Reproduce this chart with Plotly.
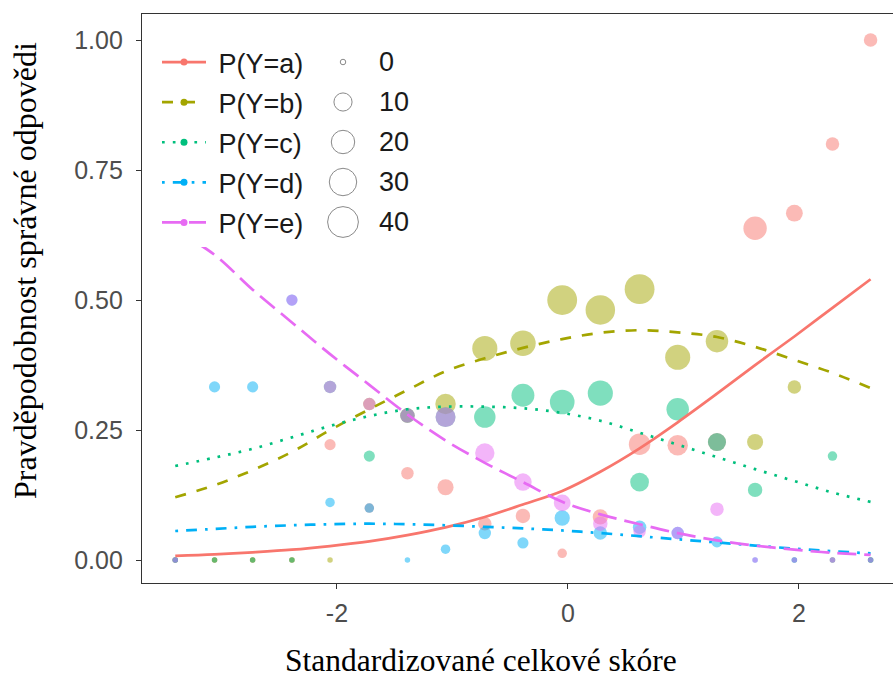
import math
import plotly.graph_objects as go

# Standardised total score of each score group
score = [-3.40, -3.06, -2.73, -2.39, -2.06, -1.72, -1.39, -1.06, -0.72, -0.39,
         -0.05, 0.28, 0.62, 0.95, 1.29, 1.62, 1.96, 2.29, 2.62]

# Fitted probabilities of choosing each option (multinomial model)
fit_a = [0.008, 0.011, 0.015, 0.020, 0.027, 0.036, 0.048, 0.063, 0.083, 0.107,
         0.133, 0.170, 0.215, 0.265, 0.320, 0.375, 0.430, 0.485, 0.540]
fit_b = [0.121, 0.144, 0.173, 0.208, 0.250, 0.290, 0.327, 0.363, 0.388, 0.408,
         0.425, 0.437, 0.442, 0.438, 0.429, 0.410, 0.385, 0.360, 0.331]
fit_c = [0.181, 0.197, 0.214, 0.236, 0.258, 0.277, 0.290, 0.295, 0.295, 0.292,
         0.283, 0.268, 0.245, 0.222, 0.198, 0.175, 0.152, 0.130, 0.112]
fit_d = [0.056, 0.060, 0.064, 0.067, 0.069, 0.070, 0.069, 0.067, 0.064, 0.061,
         0.057, 0.052, 0.046, 0.040, 0.034, 0.028, 0.022, 0.017, 0.013]
fit_e = [0.635, 0.587, 0.520, 0.457, 0.396, 0.337, 0.280, 0.230, 0.187, 0.150,
         0.112, 0.088, 0.069, 0.052, 0.038, 0.028, 0.020, 0.014, 0.010]

# Observed proportions of each option per score group
obs_a = [0, 0, 0, 0, 0.222, 0.100, 0.167, 0.140, 0.070, 0.085,
         0.013, 0.083, 0.223, 0.221, 0.227, 0.638, 0.667, 0.800, 1.000]
obs_b = [0, 0, 0, 0, 0, 0.300, 0.278, 0.300, 0.407, 0.417,
         0.500, 0.481, 0.521, 0.390, 0.421, 0.227, 0.333, 0, 0]
obs_c = [0, 0, 0, 0, 0.333, 0.200, 0.278, 0.275, 0.275, 0.317,
         0.304, 0.321, 0.150, 0.290, 0.227, 0.135, 0, 0.200, 0]
obs_d = [0, 0.333, 0.333, 0.500, 0.111, 0.100, 0, 0.021, 0.052, 0.033,
         0.081, 0.052, 0.063, 0.052, 0.035, 0, 0, 0, 0]
obs_e = [0, None, None, 0.500, 0.333, 0.300, 0.278, 0.275, 0.206, 0.150,
         0.110, 0.070, 0.055, 0.052, 0.098, 0, 0, 0, 0]

# Number of respondents choosing each option per score group
n_a = [0, 0, 0, 0, 2, 1, 3, 7, 4, 5, 1, 6, 16, 14, 10, 20, 8, 4, 4]
n_b = [0, 0, 0, 0, 0, 3, 5, 14, 24, 25, 37, 36, 37, 24, 18, 7, 4, 0, 0]
n_c = [0, 0, 0, 0, 3, 2, 5, 13, 16, 19, 23, 24, 11, 18, 10, 5, 0, 1, 0]
n_d = [0, 2, 2, 2, 1, 1, 0, 1, 3, 2, 6, 4, 4, 3, 2, 0, 0, 0, 0]
n_e = [0, 0, 0, 2, 3, 3, 5, 13, 12, 9, 8, 5, 3, 3, 4, 0, 0, 0, 0]

labels = ["P(Y=a)", "P(Y=b)", "P(Y=c)", "P(Y=d)", "P(Y=e)"]
size_breaks = [0, 10, 20, 30, 40]

colors = ["#F8766D", "#A3A500", "#00BF7D", "#00B0F6", "#E76BF3"]
LW = 2.7
dashes = ["solid", "11px,11px", "2.7px,8.1px", "2.7px,8.1px,10.8px,8.1px", "19px,8px"]

fits = [fit_a, fit_b, fit_c, fit_d, fit_e]
obs = [obs_a, obs_b, obs_c, obs_d, obs_e]
counts = [n_a, n_b, n_c, n_d, n_e]

SANS = "Liberation Sans"
SERIF = "Liberation Serif"


def point_size(n):
    # area-style size scale: diameter grows with sqrt(count)
    return 5.5 + 4.0 * math.sqrt(n)


fig = go.Figure()

# observed proportions, sized by count
for k in range(5):
    fig.add_trace(go.Scatter(
        x=score, y=obs[k], mode="markers", showlegend=False, hoverinfo="skip",
        marker=dict(color=colors[k], opacity=0.5,
                    size=[point_size(n) for n in counts[k]], line=dict(width=0)),
    ))

# fitted curves
for k in range(5):
    fig.add_trace(go.Scatter(
        x=score, y=fits[k], mode="lines", showlegend=False, hoverinfo="skip",
        line=dict(color=colors[k], width=LW, dash=dashes[k], shape="spline"),
    ))

# legend keys (line with a dot)
for k in range(5):
    fig.add_trace(go.Scatter(
        x=[None], y=[None], mode="lines+markers", name="\u00a0" + labels[k],
        legendgroup=labels[k],
        line=dict(color=colors[k], width=LW, dash=dashes[k]),
        marker=dict(color=colors[k], size=7),
    ))

W, H = 893, 678
L, R, T, B = 142, 0, 14, 95
PW, PH = W - L - R, H - T - B


def px_x(p):
    return (p - L) / PW


def px_y(p):
    return 1 - (p - T) / PH


shapes = []
annotations = []

# size legend: open circles with count labels
row_y = [62, 102, 142, 182, 222]
for yy, n in zip(row_y, size_breaks):
    r = point_size(n) / 2
    cx = 343
    shapes.append(dict(
        type="circle", xref="paper", yref="paper",
        x0=px_x(cx - r), x1=px_x(cx + r), y0=px_y(yy + r), y1=px_y(yy - r),
        line=dict(color="#8a8a8a", width=1), fillcolor="white", layer="above",
    ))
    annotations.append(dict(
        xref="paper", yref="paper", x=px_x(377), y=px_y(yy), text=str(n),
        showarrow=False, xanchor="left", yanchor="middle",
        font=dict(family=SANS, size=27, color="#1a1a1a"),
    ))

# axis titles
annotations.append(dict(
    xref="paper", yref="paper", x=px_x(481), y=px_y(660),
    text="Standardizované celkové skóre", showarrow=False,
    xanchor="center", yanchor="middle",
    font=dict(family=SERIF, size=31.5, color="black"),
))
annotations.append(dict(
    xref="paper", yref="paper", x=px_x(25), y=px_y(271),
    text="Pravděpodobnost správné odpovědi", showarrow=False, textangle=-90,
    xanchor="center", yanchor="middle",
    font=dict(family=SERIF, size=32, color="black"),
))

fig.update_layout(
    width=W, height=H,
    margin=dict(l=L, r=R, t=T, b=B),
    paper_bgcolor="white", plot_bgcolor="white",
    showlegend=True,
    legend=dict(
        x=px_x(157), y=px_y(38), xanchor="left", yanchor="top",
        bgcolor="white", borderwidth=0,
        font=dict(family=SANS, size=27, color="#1a1a1a"),
        traceorder="grouped", tracegroupgap=2, itemwidth=44,
    ),
    shapes=shapes,
    annotations=annotations,
    xaxis=dict(
        range=[-3.688, 2.814], showgrid=False, zeroline=False,
        tickvals=[-2, 0, 2], ticktext=["-2", "0", "2"],
        ticks="outside", ticklen=5, tickwidth=1.2, tickcolor="#333333",
        showline=True, mirror=True, linecolor="#333333", linewidth=1.3,
        tickfont=dict(family=SANS, size=25, color="#4D4D4D"),
        ticklabelstandoff=3,
    ),
    yaxis=dict(
        range=[-0.044, 1.05], showgrid=False, zeroline=False,
        tickvals=[0, 0.25, 0.5, 0.75, 1.0],
        ticktext=["0.00", "0.25", "0.50", "0.75", "1.00"],
        ticks="outside", ticklen=5, tickwidth=1.2, tickcolor="#333333",
        showline=True, mirror=False, linecolor="#333333", linewidth=1.3,
        tickfont=dict(family=SANS, size=25, color="#4D4D4D"),
        ticklabelstandoff=8,
    ),
)

fig.write_html("out.html")
